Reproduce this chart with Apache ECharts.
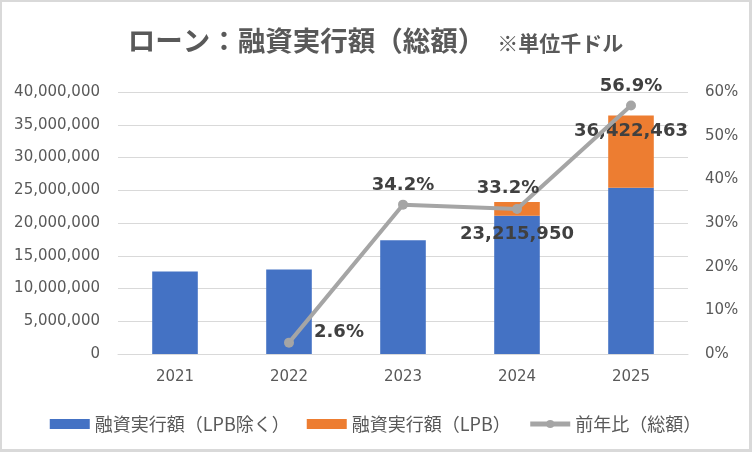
<!DOCTYPE html>
<html>
<head>
<meta charset="utf-8">
<script src="https://cdn.jsdelivr.net/npm/echarts@6/dist/echarts.min.js"></script>
<style>
  html, body { margin: 0; padding: 0; background: #ffffff; }
  #chart {
    width: 752px;
    height: 452px;
    box-sizing: border-box;
    border-style: solid;
    border-color: #d9d9d9;
    border-width: 2px 3px 3px 2px;
    background: #ffffff;
  }
</style>
</head>
<body>
<div id="chart"></div>
<script>
// categories and values (thousand USD)
const years = ["2021", "2022", "2023", "2024", "2025"];
const loans_ex_lpb = [12600000, 12900000, 17350000, 21100000, 25400000];
const loans_lpb = [0, 0, 0, 2115950, 11022463];
const loans_total = [null, null, null, 23215950, 36422463];
const yoy_growth = [null, 2.6, 34.2, 33.2, 56.9];

const series_names = ["融資実行額（LPB除く）", "融資実行額（LPB）", "前年比（総額）"];
const series_colors = ["#4472C4", "#ED7D31", "#A5A5A5"];

const num_font = "'DejaVu Sans', 'Noto Sans CJK JP', sans-serif";
const jp_font = "'Noto Sans CJK JP', sans-serif";

const fmt = (v) => Number(v).toLocaleString("en-US");

// per-point label placement for the growth line
const pct_label_pos = [
  null,
  { position: "right", distance: 20, offset: [0, -10] },
  { position: "top" },
  { position: "top", offset: [-9, -2] },
  { position: "top" },
];
// per-bar placement for the total labels
const total_label_offset = [null, null, null, [0, 18], [0, 2]];

const chart = echarts.init(document.getElementById("chart"));

chart.setOption({
  backgroundColor: "#ffffff",
  animation: false,
  title: {
    text: "{a|ローン：融資実行額（総額）}{b|※単位千ドル}",
    left: "center",
    top: 20,
    textStyle: {
      rich: {
        a: { fontFamily: jp_font, fontSize: 27.5, fontWeight: "bold", color: "#595959" },
        b: {
          fontFamily: jp_font,
          fontSize: 21,
          fontWeight: "bold",
          color: "#595959",
          padding: [4, 0, 0, 12],
        },
      },
    },
  },
  legend: {
    top: 408,
    left: "center",
    itemWidth: 40,
    itemHeight: 10,
    itemGap: 17,
    selectedMode: false,
    textStyle: { fontFamily: jp_font, fontSize: 18, color: "#595959" },
    data: [
      { name: series_names[0], icon: "rect" },
      { name: series_names[1], icon: "rect" },
      { name: series_names[2], lineStyle: { width: 5 } },
    ],
  },
  grid: { left: 116, right: 61, top: 90, bottom: 95 },
  xAxis: {
    type: "category",
    data: years,
    axisTick: { show: false },
    axisLine: { lineStyle: { color: "#d9d9d9", width: 1 } },
    axisLabel: { fontFamily: num_font, fontSize: 15, color: "#595959", margin: 16 },
  },
  yAxis: [
    {
      type: "value",
      min: 0,
      max: 40000000,
      interval: 5000000,
      axisLine: { show: false },
      axisTick: { show: false },
      axisLabel: {
        fontFamily: num_font,
        fontSize: 15,
        color: "#595959",
        margin: 18,
        formatter: fmt,
      },
      splitLine: { lineStyle: { color: "#d9d9d9", width: 1 } },
    },
    {
      type: "value",
      min: 0,
      max: 60,
      interval: 10,
      axisLine: { show: false },
      axisTick: { show: false },
      axisLabel: {
        fontFamily: num_font,
        fontSize: 15,
        color: "#595959",
        margin: 17,
        formatter: "{value}%",
      },
      splitLine: { show: false },
    },
  ],
  series: [
    {
      name: series_names[0],
      type: "bar",
      stack: "loan",
      barWidth: "40%",
      itemStyle: { color: series_colors[0] },
      data: loans_ex_lpb,
    },
    {
      name: series_names[1],
      type: "bar",
      stack: "loan",
      barWidth: "40%",
      itemStyle: { color: series_colors[1] },
      data: loans_lpb.map((v, i) => ({
        value: v,
        label: {
          show: loans_total[i] != null,
          position: "insideTop",
          offset: total_label_offset[i] || [0, 0],
          formatter: () => fmt(loans_total[i]),
          fontFamily: num_font,
          fontSize: 18,
          fontWeight: "bold",
          color: "#404040",
        },
      })),
    },
    {
      name: series_names[2],
      type: "line",
      yAxisIndex: 1,
      symbol: "circle",
      symbolSize: 10,
      z: 5,
      lineStyle: { color: series_colors[2], width: 4 },
      itemStyle: { color: series_colors[2] },
      data: yoy_growth.map((v, i) => ({
        value: v,
        label: Object.assign(
          {
            show: v != null,
            formatter: (p) => p.value.toFixed(1) + "%",
            fontFamily: num_font,
            fontSize: 18,
            fontWeight: "bold",
            color: "#404040",
          },
          pct_label_pos[i] || {}
        ),
      })),
    },
  ],
});

window.addEventListener("resize", chart.resize);
</script>
</body>
</html>
